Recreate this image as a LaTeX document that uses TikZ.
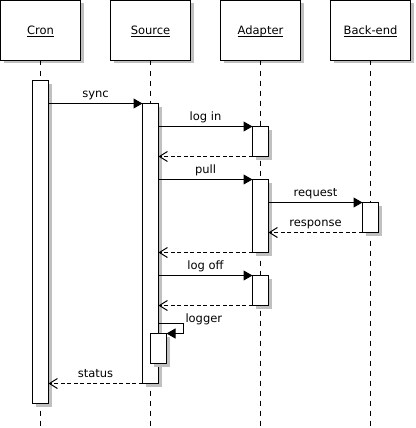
\documentclass[tikz,border=0pt]{standalone}
\usepackage{fontspec}
\setmainfont{DejaVu Sans}
\newsavebox\ulbox
\newcommand\ulx[1]{\sbox\ulbox{#1}\rlap{\usebox\ulbox}\rule[-2.1pt]{\wd\ulbox}{1pt}}
\usetikzlibrary{arrows.meta,shadows}
\definecolor{shade}{RGB}{192,192,192}
\begin{document}
\begin{tikzpicture}[x=1pt,y=-1pt,
  font=\fontsize{11.5}{14}\selectfont,
  every node/.style={inner sep=0pt, outer sep=0pt},
  shd/.style={drop shadow={shadow xshift=3pt, shadow yshift=-3pt, fill=shade, opacity=1}},
  head/.style={draw=black, fill=white, line width=1pt, minimum width=80pt, minimum height=60pt,
    anchor=north west, text height=11pt, text depth=2pt, shd},
  act/.style={draw=black, fill=white, line width=1pt, minimum width=16pt, anchor=north west, shd},
  life/.style={line width=1pt, dash pattern=on 5pt off 5pt},
  msg/.style={draw, line width=1pt, -{Triangle[length=9pt,width=10pt]}},
  ret/.style={draw, line width=1pt, dash pattern=on 4pt off 2.5pt, -{Straight Barb[length=8pt,width=10pt]}},
  lbl/.style={anchor=base}
]
\useasboundingbox (0,0) rectangle (415,428);
\coordinate (bot) at (0,428);

% headers
\node[head] (cron) at (0.5,0.5) {\ulx{Cron}};
\node[head] (src) at (110.5,0.5) {\ulx{Source}};
\node[head] (ad) at (220.5,0.5) {\ulx{Adapter}};
\node[head] (be) at (330.5,0.5) {\ulx{Back-end}};

% lifelines
\draw[life] (cron.south) -- (cron.south |- bot);
\draw[life] (src.south) -- (src.south |- bot);
\draw[life] (ad.south) -- (ad.south |- bot);
\draw[life] (be.south) -- (be.south |- bot);

% activations
\node[act, minimum height=323pt] (cronA) at (32.5,80.5) {};
\node[act, minimum height=280pt] (srcA) at (142.5,103.5) {};
\node[act, minimum height=30pt] (adA1) at (252.5,126.5) {};
\node[act, minimum height=73pt] (adA2) at (252.5,179.5) {};
\node[act, minimum height=30pt] (beA) at (362.5,202.5) {};
\node[act, minimum height=30pt] (adA3) at (252.5,275.5) {};
\node[act, minimum height=30pt] (srcA2) at (150.5,333.5) {};

% messages
\draw[msg] (cronA.east |- srcA.north west) -- (srcA.north west);
\draw[msg] (srcA.east |- adA1.north west) -- (adA1.north west);
\draw[ret] (adA1.south west) -- (srcA.east |- adA1.south west);
\draw[msg] (srcA.east |- adA2.north west) -- (adA2.north west);
\draw[msg] (adA2.east |- beA.north west) -- (beA.north west);
\draw[ret] (beA.south west) -- (adA2.east |- beA.south west);
\draw[ret] (adA2.south west) -- (srcA.east |- adA2.south west);
\draw[msg] (srcA.east |- adA3.north west) -- (adA3.north west);
\draw[ret] (adA3.south west) -- (srcA.east |- adA3.south west);
\coordinate (lg) at (158.5,323.5);
\draw[msg] (lg) -- ++(25,0) -- ++(0,10) -- (srcA2.north east);
\draw[ret] (srcA.south west) -- (cronA.east |- srcA.south west);

% labels
\node[lbl] (lsync) at (95.5,97) {sync};
\node[lbl] (llogin) at (205.5,120) {log in};
\node[lbl] (lpull) at (205.5,173) {pull};
\node[lbl] (lreq) at (315.5,196) {request};
\node[lbl] (lresp) at (315.5,226) {response};
\node[lbl] (llogoff) at (205.5,269) {log off};
\node[anchor=base west] (llogger) at (185.5,322) {logger};
\node[lbl] (lstatus) at (95.5,377) {status};
\end{tikzpicture}
\end{document}
